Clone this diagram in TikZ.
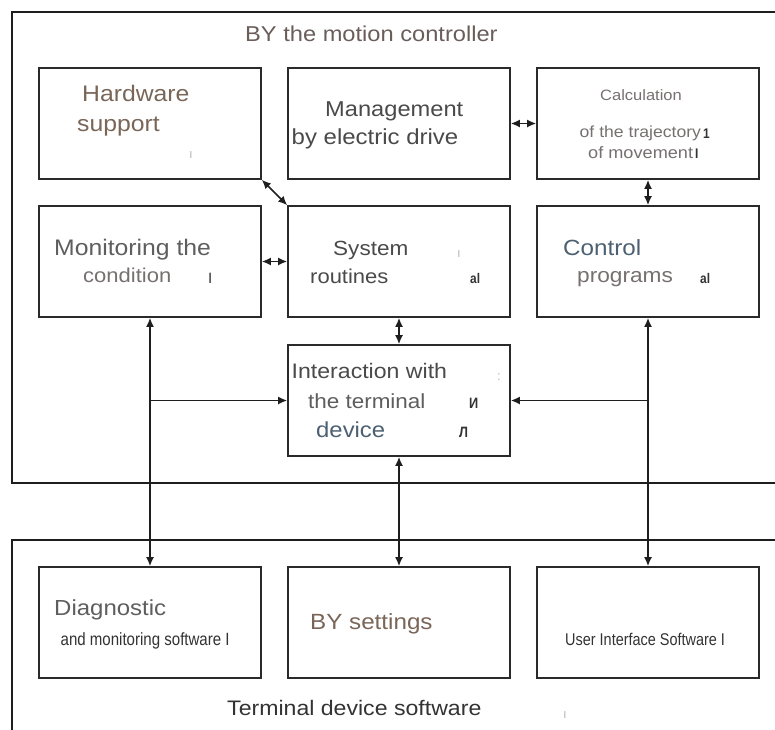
\documentclass[tikz,border=0pt]{standalone}
\usepackage{fontspec}
\setmainfont{Liberation Sans}
\newfontfamily\wfont{Liberation Sans}[FakeStretch=1.1]
\newfontfamily\cfont{Liberation Sans}[FakeStretch=0.85]
\usetikzlibrary{arrows.meta}
\newcommand\myfs[1]{\fontsize{#1}{#1}\selectfont}
\definecolor{framecol}{HTML}{1E1E1E}
\definecolor{boxcol}{HTML}{2A2A2A}
\definecolor{titlecol}{HTML}{6A5E5A}
\definecolor{browncol}{HTML}{7A6658}
\definecolor{darkcol}{HTML}{4A4A4A}
\definecolor{greycol}{HTML}{5E5E5E}
\definecolor{lightcol}{HTML}{777070}
\definecolor{bluecol}{HTML}{4C6072}
\definecolor{blackcol}{HTML}{333333}
\definecolor{faintcol}{HTML}{BBBBBB}
\begin{document}
\begin{tikzpicture}[x=1pt,y=-1pt,
  frame/.style={draw=framecol,line width=2pt},
  box/.style={draw=boxcol,line width=1.6pt,minimum width=222pt,minimum height=111pt,inner sep=0pt},
  txt/.style={anchor=base west,inner sep=0pt},
  dbl/.style={draw=framecol,line width=1.7pt,{Latex[length=9pt,width=8pt]}-{Latex[length=9pt,width=8pt]}},
  sgl/.style={draw=framecol,line width=1.7pt,-{Latex[length=9pt,width=8pt]}},
  strokemark/.style={anchor=base west,inner sep=0pt,font={\cfont\bfseries\myfs{14}},text=blackcol},
  faintmark/.style={anchor=base west,inner sep=0pt,font={\myfs{13}},text=faintcol}]
\useasboundingbox[fill=white] (0,0) rectangle (775,729);
% frames
\draw[frame] (12,12) rectangle (800,483);
\draw[frame] (12,540) rectangle (800,760);
% boxes
\node[box] (hw)   at (150,123.5) {};
\node[box] (mgmt) at (399,123.5) {};
\node[box] (calc) at (648,123.5) {};
\node[box] (mon)  at (150,261.5) {};
\node[box] (sys)  at (399,261.5) {};
\node[box] (ctrl) at (648,261.5) {};
\node[box] (inter) at (399,400.5) {};
\node[box] (diag) at (150,622.5) {};
\node[box] (bys)  at (399,622.5) {};
\node[box] (ui)   at (648,622.5) {};
% titles
\node[txt,font={\wfont\myfs{21.5}},text=titlecol] (t1) at (245,41.5) {BY the motion controller};
\node[txt,font={\wfont\myfs{21}},text=blackcol] (t2) at (227,715) {Terminal device software};
% box texts
\node[txt,font={\wfont\myfs{22.5}},text=browncol] (hw1) at (82,101.5) {Hardware};
\node[txt,font={\wfont\myfs{22.5}},text=browncol] (hw2) at (77,131.5) {support};
\node[txt,font={\wfont\myfs{21.5}},text=darkcol] (mg1) at (325,116.5) {Management};
\node[txt,font={\wfont\myfs{21.8}},text=darkcol] (mg2) at (291.5,144) {by electric drive};
\node[txt,font={\wfont\myfs{15}},text=lightcol] (ca1) at (600,100.5) {Calculation};
\node[txt,font={\wfont\myfs{16}},text=lightcol] (ca2) at (579.5,137.5) {of the trajectory};
\node[txt,font={\wfont\myfs{16.5}},text=lightcol] (ca3) at (588,158.5) {of movement};
\node[txt,font={\wfont\myfs{22.5}},text=greycol] (mo1) at (54,255.5) {Monitoring the};
\node[txt,font={\wfont\myfs{20}},text=lightcol] (mo2) at (83,282.5) {condition};
\node[txt,font={\wfont\myfs{20.5}},text=darkcol] (sy1) at (333,255.5) {System};
\node[txt,font={\wfont\myfs{20}},text=darkcol] (sy2) at (310,283) {routines};
\node[txt,font={\wfont\myfs{22}},text=bluecol] (co1) at (563,255) {Control};
\node[txt,font={\wfont\myfs{20.6}},text=lightcol] (co2) at (577,282.5) {programs};
\node[txt,font={\wfont\myfs{21}},text=darkcol] (in1) at (291.5,378.5) {Interaction with};
\node[txt,font={\wfont\myfs{20.4}},text=greycol] (in2) at (308,408.5) {the terminal};
\node[txt,font={\wfont\myfs{21.7}},text=bluecol] (in3) at (316,437) {device};
\node[txt,font={\wfont\myfs{21.8}},text=greycol] (di1) at (54,615) {Diagnostic};
\node[txt,font={\cfont\myfs{17.7}},text=blackcol] (di2) at (60.5,645) {and monitoring software I};
\node[txt,font={\wfont\myfs{22}},text=browncol] (by1) at (310,629) {BY settings};
\node[txt,font={\cfont\myfs{17}},text=blackcol] (ui1) at (565,645) {User Interface Software I};
% stray marks
\node[faintmark] (m1) at (189,158) {ı};
\node[faintmark] (m2) at (457,257) {ı};
\node[strokemark] (m3) at (470,283) {al};
\node[strokemark] (m4) at (700,283) {al};
\node[faintmark] (m5) at (497,380) {:};
\node[strokemark,font={\cfont\bfseries\myfs{15}}] (m6) at (469,408) {И};
\node[strokemark,font={\cfont\bfseries\myfs{15}}] (m7) at (459,437) {Л};
\node[strokemark] (m8) at (703,138) {1};
\node[strokemark] (m9) at (695,158.5) {I};
\node[strokemark,font={\myfs{15}}] (m10) at (208,283) {I};
\node[faintmark] (m11) at (563,718) {ı};
% connectors
\draw[dbl] (hw.south east) -- (sys.north west);
\draw[dbl] (mgmt.east) -- (calc.west);
\draw[dbl] (calc.south) -- (ctrl.north);
\draw[dbl] (mon.east) -- (sys.west);
\draw[dbl] (sys.south) -- (inter.north);
\draw[dbl] (mon.south) -- (diag.north);
\draw[dbl] (ctrl.south) -- (ui.north);
\draw[dbl] (inter.south) -- (bys.north);
\draw[sgl] (mon.south |- inter.west) -- (inter.west);
\draw[sgl] (ctrl.south |- inter.east) -- (inter.east);
\end{tikzpicture}
\end{document}
